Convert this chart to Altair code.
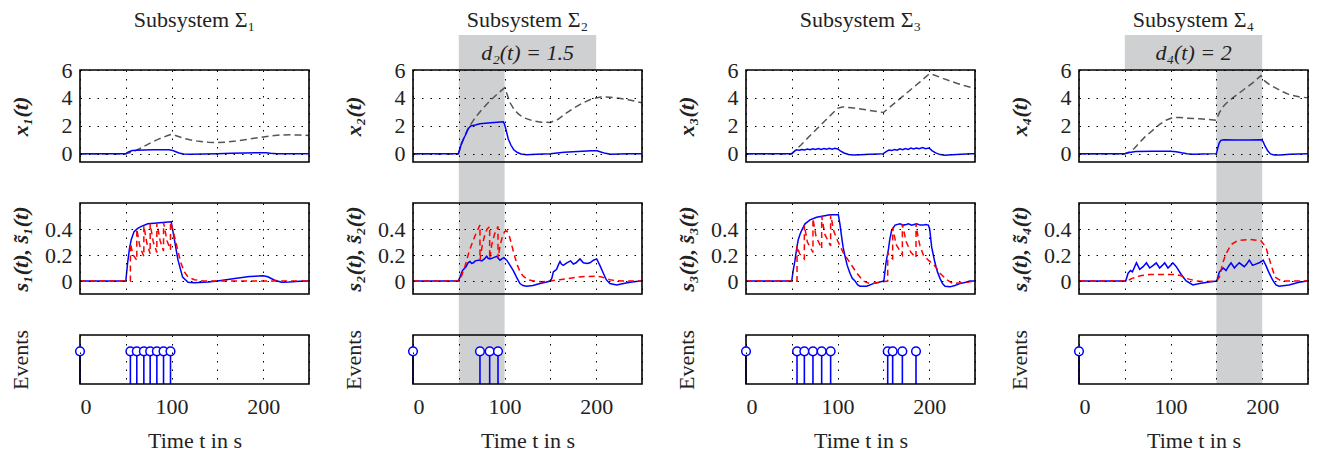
import altair as alt
import pandas as pd

# ---------------- data ----------------
TITLES = ["Subsystem Σ₁", "Subsystem Σ₂", "Subsystem Σ₃", "Subsystem Σ₄"]
X_TITLES = ["x₁(t)", "x₂(t)", "x₃(t)", "x₄(t)"]
S_TITLES = ["s₁(t), s̃₁(t)", "s₂(t), s̃₂(t)", "s₃(t), s̃₃(t)", "s₄(t), s̃₄(t)"]
BANDS = [None, (50, 100), None, (150, 200)]
BOX_SPAN = (50, 200)
BOX_LABELS = [None, "d₂(t) = 1.5", None, "d₄(t) = 2"]
TIME_TICKS = [0, 50, 100, 150, 200, 250]
X_TICKS = [0, 2, 4, 6]
S_TICKS = [0, 0.2, 0.4]

X1_BLUE = [(0, 0), (50, 0), (53, 0.12), (57, 0.22), (62, 0.25), (70, 0.26), (80, 0.27), (90, 0.28), (97, 0.28),
           (100, 0.25), (104, 0.15), (108, 0.05), (113, -0.02), (120, -0.04), (135, -0.03), (150, -0.01),
           (165, 0.02), (180, 0.05), (195, 0.07), (203, 0.06), (208, 0.02), (215, 0), (250, 0)]
X1_GRAY = [(0, 0), (50, 0), (55, 0.08), (60, 0.2), (65, 0.35), (70, 0.52), (75, 0.7), (80, 0.87), (85, 1.02),
           (90, 1.15), (95, 1.28), (100, 1.38), (105, 1.28), (110, 1.17), (115, 1.07), (120, 0.99), (130, 0.88),
           (140, 0.82), (150, 0.8), (160, 0.83), (170, 0.9), (180, 1.0), (190, 1.1), (200, 1.2), (210, 1.29),
           (220, 1.34), (230, 1.35), (240, 1.33), (250, 1.3)]
S1_BLUE = [(0, 0), (50, 0), (52, 0.14), (54, 0.25), (56, 0.32), (59, 0.38), (63, 0.405), (67, 0.42), (74, 0.44),
           (81, 0.445), (90, 0.45), (99.6, 0.455), (103, 0.32), (107, 0.16), (112, 0.03), (118, -0.01),
           (125, -0.013), (140, -0.008), (150, 0), (169, 0.02), (185, 0.035), (200, 0.04), (205, 0.033),
           (212, 0.008), (220, -0.01), (228, -0.008), (240, -0.002), (250, 0)]
S1_RED = [(0, 0), (55, 0), (55, 0.29), (58, 0.2), (62, 0.16), (62, 0.4), (65.5, 0.26), (69.7, 0.19), (69.7, 0.425),
          (73, 0.29), (76.6, 0.21), (76.6, 0.44), (80, 0.3), (83.9, 0.22), (83.9, 0.447), (87.5, 0.31), (91.2, 0.23),
          (91.2, 0.45), (95, 0.31), (98.8, 0.24), (98.8, 0.455), (101, 0.4), (104, 0.32), (107, 0.23), (110, 0.14),
          (114, 0.07), (118, 0.03), (125, 0.01), (135, 0), (250, 0)]
EV1 = [0, 55.0, 62.0, 69.7, 76.6, 83.9, 91.2, 98.8]

X2_BLUE = [(0, 0), (49.5, 0), (51, 0.3), (53, 0.75), (55, 1.05), (57, 1.3), (59, 1.6), (61, 1.85), (63, 1.98),
           (68, 2.05), (73, 2.15), (85, 2.22), (98.6, 2.28), (100, 2.1), (102, 1.6), (104, 1.05), (107, 0.6),
           (110, 0.28), (114, 0.08), (118, -0.02), (124, -0.08), (135, -0.05), (150, 0), (165, 0.1), (180, 0.15),
           (195, 0.2), (201, 0.2), (205, 0.12), (210, 0.02), (216, -0.04), (225, -0.02), (235, 0), (250, 0)]
X2_GRAY = [(0, 0), (49.5, 0), (52, 0.5), (55, 1.0), (60, 1.8), (65, 2.3), (70, 2.75), (75, 3.15), (80, 3.5),
           (85, 3.85), (90, 4.15), (95, 4.45), (100, 4.72), (103, 4.2), (106, 3.65), (110, 3.2), (115, 2.85),
           (120, 2.6), (130, 2.37), (140, 2.25), (150, 2.24), (158, 2.45), (165, 2.8), (175, 3.25), (185, 3.62),
           (195, 3.92), (205, 4.07), (215, 4.05), (225, 3.97), (235, 3.87), (250, 3.65)]
S2_BLUE = [(0, 0), (49.5, 0), (51.3, 0.03), (54, 0.08), (57.9, 0.11), (60, 0.14), (62.2, 0.15), (64, 0.135),
           (65.9, 0.14), (68, 0.155), (71.3, 0.16), (73.1, 0.16), (75, 0.155), (78, 0.17), (80.4, 0.19), (82, 0.175),
           (84, 0.17), (88, 0.18), (91.3, 0.19), (93, 0.175), (95, 0.16), (97, 0.17), (99.3, 0.18), (102.3, 0.16),
           (106, 0.12), (109.5, 0.08), (113, 0.03), (116.8, -0.02), (120, -0.035), (124, -0.04), (131, -0.035),
           (138.6, -0.02), (145, -0.01), (149.6, 0), (151.5, 0.02), (153.2, 0.07), (155, 0.08), (156.8, 0.09),
           (158.5, 0.12), (160.5, 0.15), (162, 0.13), (164, 0.12), (168, 0.14), (172, 0.155), (175, 0.13),
           (178, 0.14), (182.3, 0.17), (186, 0.14), (190, 0.135), (193.2, 0.14), (197, 0.16), (200.5, 0.17),
           (204, 0.12), (207.8, 0.06), (211, 0.01), (215, -0.02), (222.3, -0.03), (230, -0.02), (237, -0.01),
           (248, 0), (250, 0)]
S2_RED = [(0, 0), (49.5, 0), (53, 0.04), (57, 0.12), (61, 0.22), (65, 0.3), (69, 0.37), (73.1, 0.43), (73.1, 0.16),
          (75.5, 0.27), (78.5, 0.36), (81, 0.4), (83.7, 0.42), (83.7, 0.17), (86, 0.28), (89, 0.36), (92.8, 0.42),
          (92.8, 0.175), (95, 0.27), (97.5, 0.34), (100, 0.38), (102.5, 0.385), (105, 0.35), (108, 0.27),
          (111, 0.19), (114, 0.12), (117, 0.07), (120, 0.04), (125, 0.01), (132, 0), (140, -0.005), (150, 0),
          (160, 0.01), (170, 0.02), (180, 0.03), (190, 0.035), (200, 0.037), (205, 0.033), (210, 0.022),
          (215, 0.01), (222, 0.002), (230, 0), (250, 0)]
EV2 = [0, 73.1, 83.7, 92.8]

X3_BLUE = [(0, 0), (50, 0), (52, 0.12), (55, 0.28), (58, 0.25), (61, 0.3), (64, 0.26), (67, 0.33), (70, 0.28),
           (73, 0.35), (76, 0.3), (79, 0.36), (82, 0.3), (85, 0.37), (88, 0.31), (91, 0.38), (94, 0.32), (97, 0.38),
           (100, 0.34), (103, 0.2), (107, 0.05), (112, -0.06), (117, -0.1), (125, -0.08), (135, -0.05), (145, -0.02),
           (150, 0), (153, 0.15), (156, 0.26), (159, 0.22), (162, 0.3), (165, 0.25), (168, 0.35), (171, 0.28),
           (174, 0.36), (177, 0.3), (180, 0.4), (183, 0.33), (186, 0.4), (189, 0.35), (193, 0.43), (196, 0.36),
           (200, 0.4), (203, 0.22), (207, 0.05), (212, -0.07), (217, -0.11), (225, -0.08), (235, -0.04),
           (245, -0.01), (250, 0)]
X3_GRAY = [(0, 0), (50, 0), (60, 0.62), (70, 1.3), (80, 1.95), (90, 2.6), (100, 3.25), (105, 3.35), (115, 3.3),
           (125, 3.2), (135, 3.1), (145, 3.0), (150, 2.95), (160, 3.5), (170, 4.05), (180, 4.6), (190, 5.15),
           (200, 5.72), (203, 5.7), (215, 5.4), (230, 5.05), (240, 4.85), (250, 4.68)]
S3_BLUE = [(0, 0), (49.9, 0), (51.5, 0.08), (53.5, 0.16), (55.3, 0.25), (57.1, 0.32), (59, 0.36), (60.8, 0.39),
           (64.4, 0.44), (69.9, 0.47), (77.1, 0.49), (84.4, 0.5), (91.7, 0.51), (99, 0.51), (100.8, 0.51),
           (102.5, 0.44), (104.4, 0.34), (106, 0.26), (108.1, 0.19), (110.5, 0.12), (113.5, 0.06), (116, 0.02),
           (119, 0), (122, -0.03), (124.5, -0.04), (131.7, -0.04), (139, -0.02), (145, -0.01), (150.5, 0),
           (151.5, 0.06), (152.8, 0.14), (155.4, 0.24), (157, 0.32), (159, 0.39), (162.7, 0.43), (168.1, 0.44),
           (171.8, 0.43), (175, 0.435), (177.3, 0.44), (180.9, 0.43), (183.5, 0.435), (186.3, 0.44), (190, 0.43),
           (193.6, 0.43), (196, 0.435), (199.1, 0.43), (200.5, 0.4), (202.7, 0.26), (204.5, 0.2), (206.3, 0.14),
           (209, 0.07), (211.8, 0.02), (214.5, -0.02), (217.3, -0.04), (222.7, -0.045), (228, -0.035),
           (233.6, -0.02), (240, -0.01), (244.5, 0), (250, 0)]
S3_RED = [(0, 0), (55.7, 0), (55.7, 0.27), (58.5, 0.21), (63.7, 0.17), (63.7, 0.43), (67, 0.3), (73.1, 0.22),
          (73.1, 0.48), (76.5, 0.34), (82.6, 0.25), (82.6, 0.5), (86, 0.36), (92.4, 0.27), (92.4, 0.51), (96, 0.38),
          (100, 0.31), (106, 0.22), (113.5, 0.14), (121, 0.06), (128, 0.0), (135, -0.02), (145, -0.012),
          (154.7, 0), (154.7, 0.22), (157, 0.19), (160.1, 0.17), (160.1, 0.41), (164, 0.28), (170.7, 0.2),
          (170.7, 0.435), (175, 0.3), (180, 0.22), (185.6, 0.18), (185.6, 0.44), (188, 0.33), (190, 0.27),
          (193.6, 0.2), (199, 0.16), (204.5, 0.13), (208, 0.1), (211.8, 0.06), (219, 0.01), (226, -0.02),
          (237, -0.012), (250, 0)]
EV3 = [0, 55.7, 63.7, 73.1, 82.6, 92.4, 154.7, 160.1, 170.7, 185.6]

X4_BLUE = [(0, 0), (50, 0), (55, 0.08), (62, 0.15), (80, 0.17), (100, 0.17), (106, 0.14), (112, 0.06), (118, 0.0),
           (124, -0.04), (135, -0.03), (150, 0), (151.5, 0.4), (153, 0.75), (155, 0.95), (158, 1.0), (170, 0.98),
           (185, 0.97), (199, 0.99), (201, 0.85), (203, 0.55), (206, 0.2), (209, -0.02), (213, -0.1), (220, -0.1),
           (230, -0.05), (240, -0.02), (250, 0)]
X4_GRAY = [(0, 0), (50, 0), (55, 0.12), (60, 0.35), (66, 0.78), (72, 1.2), (81, 1.7), (88, 2.1), (95, 2.4),
           (102.5, 2.6), (110, 2.6), (117, 2.55), (131.5, 2.5), (149.6, 2.4), (153, 2.9), (157, 3.35), (160.5, 3.6),
           (167.8, 4.0), (175, 4.35), (182, 4.7), (190, 5.1), (198.6, 5.6), (203, 5.2), (208, 4.95), (215, 4.7),
           (222, 4.45), (229, 4.25), (240, 4.08), (250, 4.0)]
S4_BLUE = [(0, 0), (51, 0), (53.6, 0.06), (56.2, 0.08), (58.3, 0.07), (62.7, 0.14), (66.3, 0.09), (70, 0.11),
           (73.6, 0.14), (77.2, 0.1), (81, 0.12), (84.4, 0.14), (88, 0.1), (91, 0.12), (93.5, 0.14), (97.1, 0.1),
           (100, 0.12), (102.5, 0.14), (106.2, 0.11), (111.6, 0.05), (117, 0.0), (124.3, -0.03), (131.5, -0.02),
           (140, -0.01), (150.4, 0), (153.3, 0.07), (157.6, 0.1), (160.5, 0.08), (163, 0.11), (166, 0.14),
           (169.6, 0.1), (172, 0.12), (175, 0.14), (180.4, 0.11), (183, 0.13), (185.9, 0.16), (189.5, 0.12),
           (193, 0.13), (196.7, 0.14), (199, 0.15), (201.1, 0.16), (204, 0.12), (207, 0.07), (211.2, 0.01),
           (215, -0.03), (218.5, -0.04), (229.3, -0.03), (240.2, -0.01), (249.3, 0), (250, 0)]
S4_RED = [(0, 0), (52, 0), (58, 0.02), (67, 0.04), (77, 0.05), (100, 0.05), (106, 0.05), (111.6, 0.04), (117, 0.02),
          (128, 0), (139, -0.005), (150, 0), (153.3, 0.03), (157, 0.14), (160.5, 0.21), (166, 0.28), (173, 0.31),
          (185.9, 0.32), (198.6, 0.31), (204, 0.26), (209, 0.14), (214, 0.03), (221, 0), (250, 0)]
EV4 = [0]

X_BLUE = [X1_BLUE, X2_BLUE, X3_BLUE, X4_BLUE]
X_GRAY = [X1_GRAY, X2_GRAY, X3_GRAY, X4_GRAY]
S_BLUE = [S1_BLUE, S2_BLUE, S3_BLUE, S4_BLUE]
S_RED = [S1_RED, S2_RED, S3_RED, S4_RED]
EVENTS = [EV1, EV2, EV3, EV4]

# ---------------- styling ----------------
W, H_TOP, H_MID, H_EV = 229, 92, 91, 49
GAP_ROW, GAP_COL = 41, 104
FONT = "Liberation Serif, Times New Roman, serif"
TXT = "#222222"
GRAY = "#cfd0d2"
BLUE = "#0000ff"
RED = "#ff0000"
DGRAY = "#555555"
GRID = dict(grid=True, gridDash=[1.5, 7], gridColor="black", gridWidth=1, gridOpacity=1,
            domain=False, ticks=False, zindex=1, labelFont=FONT, titleFont=FONT,
            labelColor=TXT, titleColor=TXT)

xscale = alt.Scale(domain=[0, 250], nice=False, zero=False)
s_top = alt.Scale(domain=[-0.6, 6], nice=False, zero=False)
s_mid = alt.Scale(domain=[-0.1, 0.6], nice=False, zero=False)
s_ev = alt.Scale(domain=[0, 1.5], nice=False, zero=False)

x_axis_plain = alt.Axis(values=TIME_TICKS, labels=False, title="", **GRID)
x_axis_time = alt.Axis(values=TIME_TICKS, labelExpr="datum.value % 100 == 0 ? datum.label : ''",
                       labelPadding=12, labelFontSize=22, title="Time t in s", titleFontSize=22,
                       titleFontWeight="normal", titleY=56, titleBaseline="middle", **GRID)


def ytitle_axis(values, title, h, bold, fmt):
    kw = dict(values=values, labelPadding=8, labelFontSize=22, title=title, titleX=-60, titleY=h / 2,
              titleAngle=270, titleBaseline="middle", titleAlign="center", titleFontSize=22, **GRID)
    if bold:
        kw.update(titleFontWeight="bold", titleFontStyle="italic")
    if fmt:
        kw.update(format=fmt)
    return alt.Axis(**kw)


def pairs_df(pairs):
    return pd.DataFrame({"t": [p[0] for p in pairs], "v": [p[1] for p in pairs], "i": list(range(len(pairs)))})


def frame(h):
    return alt.Chart(pd.DataFrame({"f": [0]})).mark_rect(fillOpacity=0, stroke="black", strokeWidth=1.6).encode(
        x=alt.value(0), x2=alt.value(W), y=alt.value(0), y2=alt.value(h))


def band_layer(k, xaxis, ybottom):
    b = BANDS[k]
    return alt.Chart(pd.DataFrame({"a": [b[0]], "b": [b[1]]})).mark_rect(color=GRAY).encode(
        x=alt.X("a:Q", scale=xscale, axis=xaxis), x2="b:Q", y=alt.value(0), y2=alt.value(ybottom))


def line(pairs, color, dash, xaxis, yscale, yaxis):
    kw = dict(color=color, strokeWidth=1.5)
    if dash:
        kw["strokeDash"] = dash
    return alt.Chart(pairs_df(pairs)).mark_line(**kw).encode(
        x=alt.X("t:Q", scale=xscale, axis=xaxis),
        y=alt.Y("v:Q", scale=yscale, axis=yaxis),
        order="i:Q")


def top_panel(k):
    yax = ytitle_axis(X_TICKS, X_TITLES[k], H_TOP, True, None)
    layers = []
    if BANDS[k]:
        layers.append(band_layer(k, x_axis_plain, H_TOP + GAP_ROW))
    if BOX_LABELS[k]:
        layers.append(alt.Chart(pd.DataFrame({"a": [BOX_SPAN[0]], "b": [BOX_SPAN[1]]})).mark_rect(color=GRAY).encode(
            x=alt.X("a:Q", scale=xscale, axis=x_axis_plain), x2="b:Q", y=alt.value(-35), y2=alt.value(0)))
        layers.append(alt.Chart(pd.DataFrame({"tm": [(BOX_SPAN[0] + BOX_SPAN[1]) / 2], "label": [BOX_LABELS[k]]}))
                      .mark_text(font=FONT, fontSize=22, fontStyle="italic", color=TXT, baseline="middle",
                                 align="center")
                      .encode(x=alt.X("tm:Q", scale=xscale, axis=x_axis_plain), y=alt.value(-17), text="label:N"))
    layers.append(alt.Chart(pd.DataFrame({"label": [TITLES[k]]})).mark_text(
        font=FONT, fontSize=22, color=TXT, baseline="middle", align="center").encode(
        x=alt.value(W / 2), y=alt.value(-50), text="label:N"))
    layers.append(line(X_GRAY[k], DGRAY, [7, 4], x_axis_plain, s_top, yax))
    layers.append(line(X_BLUE[k], BLUE, None, x_axis_plain, s_top, yax))
    layers.append(frame(H_TOP))
    return alt.layer(*layers).properties(width=W, height=H_TOP)


def mid_panel(k):
    yax = ytitle_axis(S_TICKS, S_TITLES[k], H_MID, True, "~g")
    layers = []
    if BANDS[k]:
        layers.append(band_layer(k, x_axis_plain, H_MID + GAP_ROW))
    layers.append(line(S_BLUE[k], BLUE, None, x_axis_plain, s_mid, yax))
    layers.append(line(S_RED[k], RED, [6, 4], x_axis_plain, s_mid, yax))
    layers.append(frame(H_MID))
    return alt.layer(*layers).properties(width=W, height=H_MID)


def ev_panel(k):
    yax = alt.Axis(labels=False, title="Events", titleX=-60, titleY=H_EV / 2, titleAngle=270,
                   titleBaseline="middle", titleAlign="center", titleFontSize=22, titleFontWeight="normal",
                   titleFont=FONT, titleColor=TXT, grid=False, domain=False, ticks=False)
    df = pd.DataFrame({"t": EVENTS[k], "base": [0] * len(EVENTS[k]), "top": [1] * len(EVENTS[k])})
    layers = []
    if BANDS[k]:
        layers.append(band_layer(k, x_axis_time, H_EV))
    layers.append(alt.Chart(df).mark_rule(color=BLUE, strokeWidth=1.6).encode(
        x=alt.X("t:Q", scale=xscale, axis=x_axis_time),
        y=alt.Y("base:Q", scale=s_ev, axis=yax), y2="top:Q"))
    layers.append(frame(H_EV))
    layers.append(alt.Chart(df).mark_point(shape="circle", filled=True, fill="white", stroke=BLUE, strokeWidth=1.5,
                                           size=75, opacity=1).encode(
        x=alt.X("t:Q", scale=xscale, axis=x_axis_time),
        y=alt.Y("top:Q", scale=s_ev, axis=yax)))
    return alt.layer(*layers).properties(width=W, height=H_EV)


panels = [top_panel(k) for k in range(4)] + [mid_panel(k) for k in range(4)] + [ev_panel(k) for k in range(4)]

chart = alt.concat(*panels, columns=4, spacing={"row": GAP_ROW, "column": GAP_COL},
                   bounds="flush", align="each").properties(
    padding={"top": 0, "left": 0, "right": 0, "bottom": 0}
).configure_view(stroke="transparent").configure_axis(
    labelFont=FONT, titleFont=FONT, labelColor=TXT, titleColor=TXT
)

chart.save("out.html", embed_options={"renderer": "svg", "actions": False})
